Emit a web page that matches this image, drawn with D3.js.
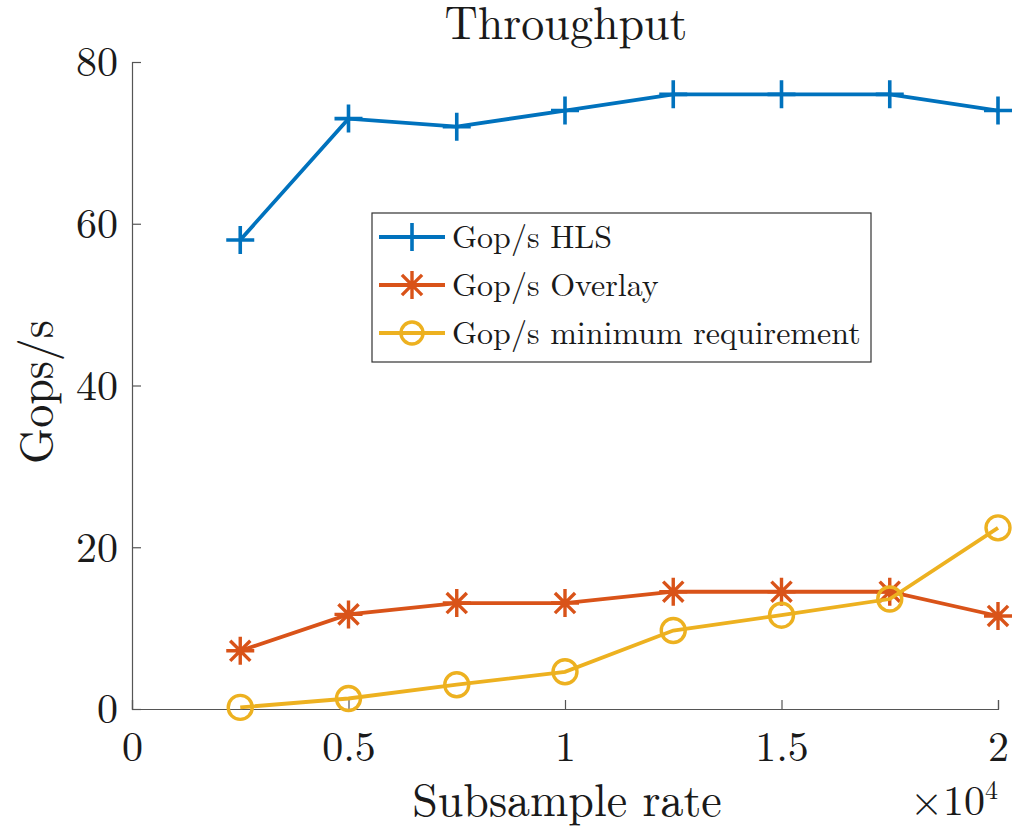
<!DOCTYPE html>
<html>
<head>
<meta charset="utf-8">
<script src="https://cdn.jsdelivr.net/npm/d3@7"></script>
<style>
  body { margin: 0; background: #fff; }
  text { font-family: "Latin Modern Roman", "CMU Serif", "DejaVu Serif", serif; fill: #1a1a1a; }
</style>
</head>
<body>
<svg width="1015" height="828"></svg>
<script>
var svg = d3.select("svg");

// data
var rates = [2500, 5000, 7500, 10000, 12500, 15000, 17500, 20000];
var hls = [58, 73, 72, 74, 76, 76, 76, 74];
var overlay = [7.2, 11.7, 13.1, 13.1, 14.5, 14.5, 14.5, 11.5];
var minReq = [0.2, 1.3, 3.0, 4.6, 9.7, 11.6, 13.6, 22.4];
var xTicks = [0, 5000, 10000, 15000, 20000];
var yTicks = [0, 20, 40, 60, 80];

var series = [
  { name: "Gop/s HLS", values: hls, color: "#0072BD", marker: "plus" },
  { name: "Gop/s Overlay", values: overlay, color: "#D95319", marker: "star" },
  { name: "Gop/s minimum requirement", values: minReq, color: "#EDB120", marker: "circle" }
];

var x = d3.scaleLinear().domain([0, 20000]).range([132, 998]);
var y = d3.scaleLinear().domain([0, 80]).range([709, 62]);

// axes (MATLAB style, ticks inward, box off)
var xAxis = svg.append("g").attr("transform", "translate(0,709)")
  .call(d3.axisBottom(x).tickValues(xTicks).tickSize(-9).tickPadding(22)
    .tickFormat(function(d) { return d3.format("")(d / 10000); }));
var yAxis = svg.append("g").attr("transform", "translate(132,0)")
  .call(d3.axisLeft(y).tickValues(yTicks).tickSize(-9).tickPadding(14));

[xAxis, yAxis].forEach(function(a) {
  a.select(".domain").attr("stroke", "#555").attr("stroke-width", 1.2);
  a.selectAll(".tick line").attr("stroke", "#555").attr("stroke-width", 1.2);
  a.selectAll(".tick text").style("font-size", "42px").attr("fill", "#1a1a1a");
});
xAxis.selectAll(".tick text").attr("dy", "0.71em");
yAxis.selectAll(".tick text").attr("dy", "0.33em");

function drawMarker(g, type, color, s) {
  if (type === "plus") {
    g.append("path").attr("d", "M" + (-s) + ",0H" + s + "M0," + (-s) + "V" + s)
      .attr("stroke", color).attr("stroke-width", 3.6).attr("fill", "none");
  } else if (type === "star") {
    var d = s * 0.72;
    g.append("path")
      .attr("d", "M" + (-s) + ",0H" + s + "M0," + (-s) + "V" + s +
        "M" + (-d) + "," + (-d) + "L" + d + "," + d + "M" + (-d) + "," + d + "L" + d + "," + (-d))
      .attr("stroke", color).attr("stroke-width", 3.4).attr("fill", "none");
  } else {
    g.append("circle").attr("r", s).attr("stroke", color).attr("stroke-width", 3.4).attr("fill", "none");
  }
}

var line = d3.line()
  .x(function(d, i) { return x(rates[i]); })
  .y(function(d) { return y(d); });

series.forEach(function(s) {
  svg.append("path").datum(s.values)
    .attr("d", line)
    .attr("fill", "none")
    .attr("stroke", s.color)
    .attr("stroke-width", 3.8);
  s.values.forEach(function(v, i) {
    var g = svg.append("g").attr("transform", "translate(" + x(rates[i]) + "," + y(v) + ")");
    drawMarker(g, s.marker, s.color, s.marker === "circle" ? 12 : 14);
  });
});

// title and labels
svg.append("text").attr("x", 566).attr("y", 39).attr("text-anchor", "middle")
  .style("font-size", "46px").text("Throughput");
svg.append("text").attr("transform", "translate(52,392) rotate(-90)").attr("text-anchor", "middle")
  .style("font-size", "46px").text("Gops/s");
svg.append("text").attr("x", 567).attr("y", 816).attr("text-anchor", "middle")
  .style("font-size", "46px").text("Subsample rate");
var mult = svg.append("text").attr("x", 998).attr("y", 815).attr("text-anchor", "end")
  .style("font-size", "42px");
mult.append("tspan").text("×10");
mult.append("tspan").attr("dy", -16).style("font-size", "26px").text("4");

// legend
var legend = svg.append("g");
legend.append("rect").attr("x", 372).attr("y", 213).attr("width", 499).attr("height", 149)
  .attr("fill", "#fff").attr("stroke", "#333").attr("stroke-width", 1.2);
series.forEach(function(s, i) {
  var ly = 237 + i * 48;
  legend.append("line").attr("x1", 379).attr("x2", 445).attr("y1", ly).attr("y2", ly)
    .attr("stroke", s.color).attr("stroke-width", 3.8);
  var g = legend.append("g").attr("transform", "translate(412," + ly + ")");
  drawMarker(g, s.marker, s.color, s.marker === "circle" ? 11 : 14);
  legend.append("text").attr("x", 452).attr("y", ly).attr("dy", "0.33em")
    .style("font-size", "32px").text(s.name);
});
</script>
</body>
</html>
